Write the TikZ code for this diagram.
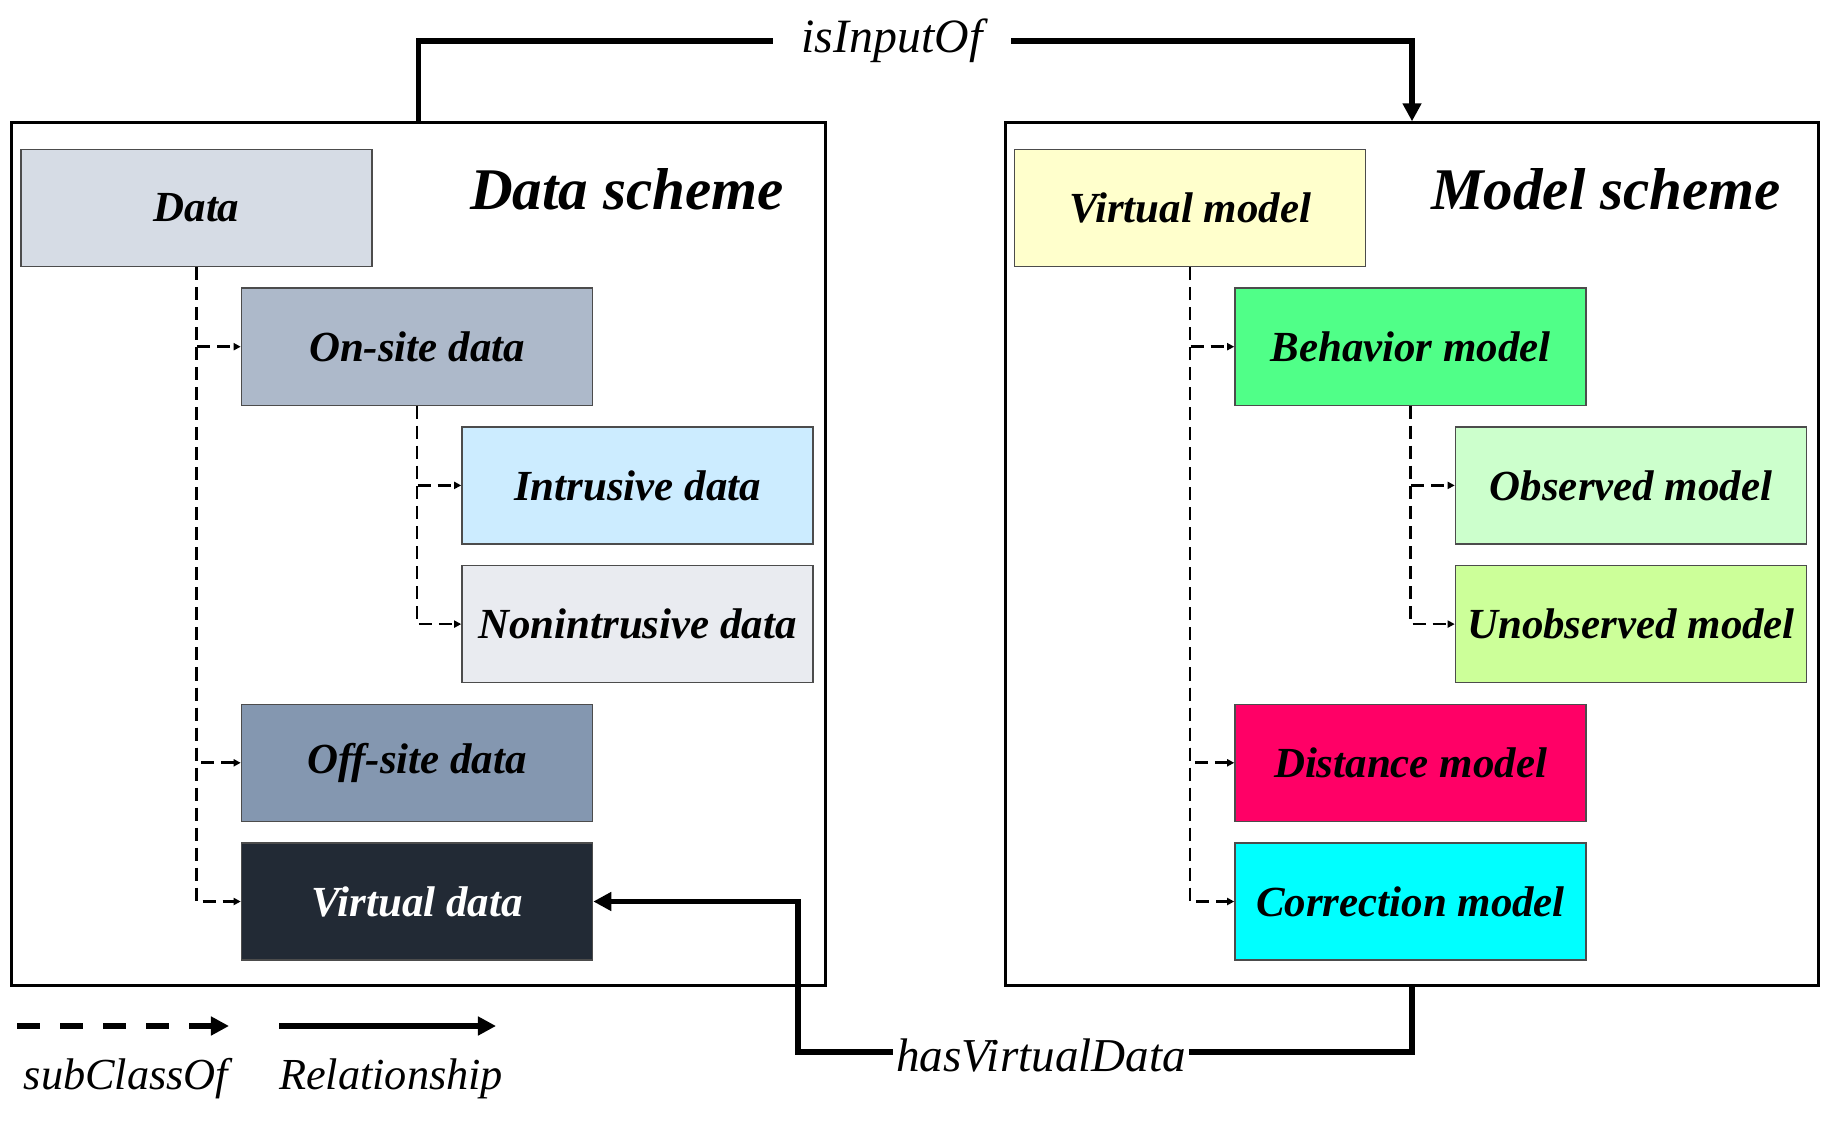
\documentclass[tikz,border=0pt]{standalone}
\usepackage{fontspec}
\setmainfont{Liberation Serif}
\usetikzlibrary{arrows.meta,positioning}

% Box colours
\definecolor{cData}{HTML}{D6DCE5}
\definecolor{cOnsite}{HTML}{ADB9CA}
\definecolor{cIntru}{HTML}{CCECFF}
\definecolor{cNonintru}{HTML}{E9EBF0}
\definecolor{cOffsite}{HTML}{8497B0}
\definecolor{cVdata}{HTML}{222A35}
\definecolor{cVmodel}{HTML}{FFFFCC}
\definecolor{cBehav}{HTML}{50FF88}
\definecolor{cObs}{HTML}{CCFFCC}
\definecolor{cUnobs}{HTML}{CCFF99}
\definecolor{cDist}{HTML}{FF0066}
\definecolor{cCorr}{HTML}{00FFFF}

\tikzset{
    cls/.style={draw=black!70, line width=0.4pt, minimum width=3.51cm, minimum height=1.17cm,
        inner sep=0pt, font=\fontsize{12.2}{14}\selectfont\bfseries\itshape},
    frame/.style={draw=black, line width=0.8pt, minimum width=8.13cm, minimum height=8.62cm, inner sep=0pt},
    sub/.style={line width=0.75pt, dash pattern=on 0.13cm off 0.07cm,
        -{Triangle[length=0.07cm,width=0.07cm]}},
    rel/.style={line width=1.5pt, -{Triangle[length=0.18cm,width=0.18cm]}},
    legsub/.style={line width=1.7pt, dash pattern=on 0.23cm off 0.2cm,
        -{Triangle[length=0.18cm,width=0.18cm]}},
    title/.style={font=\fontsize{16.8}{20}\selectfont\bfseries\itshape},
    lbl/.style={font=\fontsize{12.6}{15}\selectfont\itshape},
}

\begin{document}
\begin{tikzpicture}[x=0.01cm, y=-0.01cm]
    % Picture size
    \useasboundingbox (0,0) rectangle (1822,1125);
    % Grid steps
    \def\dx{220.5}  % indent of one level
    \def\dy{138.7}  % distance between rows
    \def\sx{993.5}  % shift of the model scheme

    % Frames of the two schemes
    \node[frame] (dscheme) at (418.5,554) {};
    \node[frame] (mscheme) at (418.5+\sx,554) {};
    \node[title] (dtitle) at (627,189) {Data scheme};
    \node[title] (mtitle) at (1606,189) {Model scheme};

    % Data classes
    \node[cls,fill=cData] (data) at (196.5,208) {Data};
    \node[cls,fill=cOnsite] (onsite) at (196.5+\dx,208+\dy) {On-site data};
    \node[cls,fill=cIntru] (intru) at (196.5+2*\dx,208+2*\dy) {Intrusive data};
    \node[cls,fill=cNonintru] (nonintru) at (196.5+2*\dx,208+3*\dy) {Nonintrusive data};
    \node[cls,fill=cOffsite] (offsite) at (196.5+\dx,208+4*\dy) {Off-site data};
    \node[cls,fill=cVdata,text=white] (vdata) at (196.5+\dx,208+5*\dy) {Virtual data};

    % Model classes
    \node[cls,fill=cVmodel] (vmodel) at (196.5+\sx,208) {Virtual model};
    \node[cls,fill=cBehav] (behav) at (196.5+\dx+\sx,208+\dy) {Behavior model};
    \node[cls,fill=cObs] (obs) at (196.5+2*\dx+\sx,208+2*\dy) {Observed model};
    \node[cls,fill=cUnobs] (unobs) at (196.5+2*\dx+\sx,208+3*\dy) {Unobserved model};
    \node[cls,fill=cDist] (dist) at (196.5+\dx+\sx,208+4*\dy) {Distance model};
    \node[cls,fill=cCorr] (corr) at (196.5+\dx+\sx,208+5*\dy) {Correction model};

    % subClassOf links
    \foreach \a/\b in {data/onsite, data/offsite, data/vdata, onsite/intru, onsite/nonintru,
        vmodel/behav, vmodel/dist, vmodel/corr, behav/obs, behav/unobs} {
        \draw[sub] (\a.south) |- (\b.west);
    }

    % isInputOf
    \coordinate (inp) at (892,41);
    \draw[rel] (dscheme.north) |- (inp) -| (mscheme.north);
    \node[lbl,font=\fontsize{13.6}{16}\selectfont\itshape,fill=white,inner xsep=0.29cm] (inplbl) at (inp) {isInputOf};

    % hasVirtualData
    \coordinate (bend) at (798,1052);
    \draw[rel] (mscheme.south) |- (bend) |- (vdata.east);
    \node[lbl,font=\fontsize{13.4}{16}\selectfont\itshape,fill=white,inner xsep=1pt,inner ysep=0pt] (hvdlbl) at (1041,1055) {hasVirtualData};

    % Legend
    \coordinate (lsub) at (17,1026);
    \coordinate (lrel) at (279,1026);
    \draw[legsub] (lsub) -- ++(212,0);
    \draw[rel,line width=1.7pt] (lrel) -- ++(217,0);
    \node[lbl] (subtxt) at (126,1079) {subClassOf};
    \node[lbl] (reltxt) at (391,1079) {Relationship};
\end{tikzpicture}
\end{document}
